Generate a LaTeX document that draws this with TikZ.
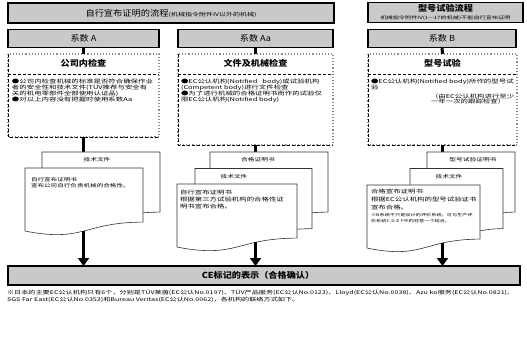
\documentclass[tikz,border=0pt]{standalone}
\usepackage{fontspec}
\setmainfont{Noto Sans CJK SC}[FakeStretch=1.1]
\newfontfamily\smallcjk{Noto Sans CJK SC}[FakeStretch=1.4]
\usetikzlibrary{calc,arrows.meta,intersections}
\newcommand{\docshape}[1]{%
  \draw[docline, name path=#1p] (#1.north west) -- (#1.north east)
    -- ($(#1.north east)!0.802!(#1.south east)$)
    .. controls ($(#1.north)!0.802!(#1.south)$) and ($(#1.north)!1.1075!(#1.south)$) ..
    ($(#1.north west)!0.934!(#1.south west)$) -- cycle;}
\begin{document}
\begin{tikzpicture}[x=1pt,y=-1pt,
  hbox/.style={draw=black, line width=1.8pt, fill=black!21, inner sep=0pt, outer sep=0pt},
  geom/.style={draw=none, inner sep=0pt, outer sep=0pt, anchor=north west},
  txt/.style={inner sep=0pt, outer sep=0pt},
  ttl/.style={txt, font=\bfseries\fontsize{8.3}{9}\selectfont},
  koef/.style={font=\fontsize{8.3}{9}\selectfont},
  bul/.style={txt, anchor=north west, align=left, font=\smallcjk\fontsize{5.3}{5.9}\selectfont},
  doclbl/.style={txt, font=\smallcjk\fontsize{4.8}{5}\selectfont},
  docline/.style={draw=black!80, line width=0.6pt, fill=white},
  cdot/.style={draw=black!45, dotted, line width=1.1pt},
  cdash/.style={draw=black, dash pattern=on 3pt off 2pt, line width=0.8pt},
  conn/.style={draw=black, line width=3pt},
  bigarrow/.style={draw=black, line width=3pt, -{Triangle[width=11pt,length=8pt]}}]
\useasboundingbox (0,0) rectangle (527,339);

% headers
\node[hbox, minimum width=326pt, minimum height=20pt] (hL) at (171,13) {};
\node[txt] (hLt) at (171,13) {{\fontsize{8.4}{9}\selectfont 自行宣布证明的流程}{\smallcjk\fontsize{5}{6}\selectfont (机械指令附件IV以外的机械)}};
\node[hbox, minimum width=155pt, minimum height=20pt] (hR) at (445.5,12.5) {};
\node[ttl] (hRt) at (445.5,8.3) {型号试验流程};
\node[txt, font=\smallcjk\fontsize{4.4}{5}\selectfont] (hRs) at (445.5,17.6) {机械指令附件IV(1—17的机械)不能自行宣布证明};

% coefficient boxes
\node[hbox, koef, minimum width=151pt, minimum height=18pt] (kA) at (83.5,38.5) {系数 A};
\node[hbox, koef, minimum width=155pt, minimum height=18pt] (kAa) at (255.5,38.5) {系数 Aa};
\node[hbox, koef, minimum width=148pt, minimum height=18pt] (kB) at (442,38.5) {系数 B};

% content boxes
\node[geom, minimum width=151pt, minimum height=83pt] (cA) at (8,54) {};
\node[geom, minimum width=155pt, minimum height=91pt] (cAa) at (178,54) {};
\node[geom, minimum width=149pt, minimum height=91pt] (cB) at (368,54) {};
\foreach \b in {cA,cAa,cB}{
  \draw[cdot] (\b.north west) rectangle (\b.south east);
  \draw[cdash] (\b.north west) -- (\b.south west) -- (\b.south east);
}
\draw[cdash] (8,74.5) -- (159,74.5);
\draw[cdash] (178,74.5) -- (333,74.5);
\draw[cdash] (368,74.5) -- (517,74.5);
\node[ttl] (tcA) at (83.5,63) {公司内检查};
\node[ttl] (tcAa) at (255.5,63) {文件及机械检查};
\node[ttl] (tcB) at (442.5,63) {型号试验};

\node[bul] (xA) at (12,79.5) {●公司内检查机械的标准是否符合确保作业\\者的安全性和技术文件(TÜV推荐与安全有\\关的机电零部件全部使用认证品)\\●对以上内容没有把握时使用系数Aa};
\node[bul] (xAa) at (181,79.5) {●EC公认机构(Notified \ \ body)或试验机构\\(Competent body)进行文件检查\\●为了进行机械的合格证明书而作的试验仅\\限EC公认机构(Notified body)};
\node[bul] (xB) at (371,79.5) {●EC公认机构(Notified body)所作的型号试\\验};
\node[bul] (xB2) at (431,93.5) {（由EC公认机构进行至少\\一年一次的跟踪检查）};

% connectors coefficient -> content
\draw[conn] (kA.south) -- (cA.north);
\draw[conn] (kAa.south) -- (cAa.north);
\draw[conn] (kB.south) -- (cB.north);

% documents column A
\node[geom, minimum width=118pt, minimum height=75pt] (dA1) at (42,152) {};
\node[geom, minimum width=118pt, minimum height=67.5pt] (dA2) at (25,168) {};
\draw[conn] (cA.south) -- (cA.south |- dA1.north);
\docshape{dA1}
\node[doclbl] (tA1) at (97,160) {技术文件};
\docshape{dA2}
\node[bul, font=\smallcjk\fontsize{4.7}{6.5}\selectfont] (tA2) at (31,177.5) {自行宣布证明书\\宣布公司自行负责机械的合格性。};

% documents column Aa
\node[geom, minimum width=118pt, minimum height=75pt] (dAa1) at (210,152) {};
\node[geom, minimum width=117pt, minimum height=75pt] (dAa2) at (195,168.5) {};
\node[geom, minimum width=120pt, minimum height=67.5pt] (dAa3) at (177,184) {};
\draw[conn] (cAa.south) -- (cAa.south |- dAa1.north);
\docshape{dAa1}
\node[doclbl] (tAa1) at (258,160) {合格证明书};
\docshape{dAa2}
\node[doclbl] (tAa2) at (234,176.5) {技术文件};
\docshape{dAa3}
\node[bul, font=\smallcjk\fontsize{5.3}{6.6}\selectfont] (tAa3) at (180,190.5) {自行宣布证明书\\根据第三方试验机构的合格性证\\明书宣布合格。};

% documents column B
\node[geom, minimum width=88pt, minimum height=75pt] (dB1) at (427,152) {};
\node[geom, minimum width=93pt, minimum height=75pt] (dB2) at (410,168.5) {};
\node[geom, minimum width=113pt, minimum height=67.5pt] (dB3) at (367,185) {};
\draw[conn] (cB.south) -- (cB.south |- dB1.north);
\docshape{dB1}
\node[doclbl] (tB1) at (473,160) {型号试验证明书};
\docshape{dB2}
\node[doclbl] (tB2) at (449,176.5) {技术文件};
\docshape{dB3}
\node[bul, font=\smallcjk\fontsize{5.3}{7.8}\selectfont] (tB3) at (371,189.5) {合格宣布证明书\\根据EC公认机构的型号试验证书\\宣布合格。};
\node[bul, font=\smallcjk\fontsize{3.7}{5.8}\selectfont] (tB4) at (371,213.5) {※B系统不只是设计的评价系统，可与生产评\\价系统C.D.E.F中的任意一个结合。};

% CE box
\node[hbox, minimum width=512pt, minimum height=19pt] (ce) at (264,275.5) {};
\node[ttl] (cet) at (258,275.5) {CE标记的表示（合格确认）};

% arrows to CE
\path[name path=vA] (cA.south |- dA2.center) -- (cA.south |- ce.north);
\path[name path=vAa] (cAa.south |- dAa3.center) -- (cAa.south |- ce.north);
\path[name path=vB] (cB.south |- dB3.center) -- (cB.south |- ce.north);
\draw[bigarrow, name intersections={of=vA and dA2p, by=pA}] (pA) -- (pA |- ce.north);
\draw[bigarrow, name intersections={of=vAa and dAa3p, by=pAa}] (pAa) -- (pAa |- ce.north);
\draw[bigarrow, name intersections={of=vB and dB3p, by=pB}] (pB) -- (pB |- ce.north);

% footnote
\node[bul, font=\smallcjk\fontsize{5.1}{7}\selectfont] (fn) at (7,289.5) {※日本的主要EC公认机构只有6个，分别是TÜV莱茵(EC公认No.0197)、TÜV产品服务(EC公认No.0123)、Lloyd(EC公认No.0038)、Azu ko服务(EC公认No.0821)、\\SGS Far East(EC公认No.0353)和Bureau Veritas(EC公认No.0062)，各机构的联络方式如下。};
\end{tikzpicture}
\end{document}
